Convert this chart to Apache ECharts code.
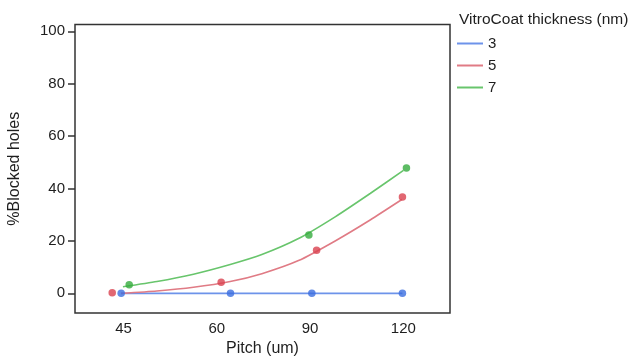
<!DOCTYPE html>
<html>
<head>
<meta charset="utf-8">
<script src="https://cdn.jsdelivr.net/npm/echarts@6/dist/echarts.min.js"></script>
<style>
html,body{margin:0;padding:0;background:#fff;}
#c{width:633px;height:358px;}
</style>
</head>
<body>
<div id="c"></div>
<script>
// Tick labels (ordinal pitch positions 1..4)
const pitchLabels = ['45', '60', '90', '120'];
const pitchPos = [1, 2, 3, 4];
const yTicks = [0, 20, 40, 60, 80, 100];
const legendTitle = 'VitroCoat thickness (nm)';
const seriesNames = ['3', '5', '7'];

// Observed points (dodged x position on ordinal axis, % blocked holes)
const x3 = [0.975, 2.147, 3.019, 3.99];
const y3 = [0, 0, 0, 0];
const x5 = [0.879, 2.047, 3.07, 3.99];
const y5 = [0.2, 4.2, 16.4, 36.8];
const x7 = [1.061, 2.987, 4.033];
const y7 = [3.3, 22.3, 47.8];

// Fitted curves
const fitX3 = [0.975, 3.99];
const fitY3 = [0, 0];
const fitX5 = [0.972, 1.358, 1.750, 2.144, 2.483, 2.876, 3.269, 3.644, 3.984];
const fitY5 = [0, 0.9, 2.3, 4.5, 7.5, 12.5, 20.0, 28.0, 35.8];
const fitX7 = [0.994, 1.358, 1.750, 2.144, 2.483, 2.876, 3.269, 3.644, 4.001];
const fitY7 = [2.5, 4.5, 7.3, 11.0, 14.8, 20.9, 29.2, 38.1, 46.9];

const pointColors = ['#3b6ee0', '#d9414f', '#35ab3d'];
const lineColors = ['#6d93ea', '#e07b85', '#68c56c'];

const zip = (a, b) => a.map((v, i) => [v, b[i]]);
const pts = [zip(x3, y3), zip(x5, y5), zip(x7, y7)];
const fits = [zip(fitX3, fitY3), zip(fitX5, fitY5), zip(fitX7, fitY7)];

const series = [];
for (let i = 0; i < 3; i++) {
  series.push({
    name: seriesNames[i],
    type: 'line',
    data: fits[i],
    smooth: 0.2,
    showSymbol: false,
    symbol: 'none',
    lineStyle: { color: lineColors[i], width: 1.6 },
    itemStyle: { color: lineColors[i] },
    z: 2,
    animation: false
  });
  series.push({
    name: seriesNames[i],
    type: 'scatter',
    data: pts[i],
    symbolSize: 7.5,
    itemStyle: { color: pointColors[i] },
    z: 3,
    animation: false
  });
}

const FONT = 'Liberation Sans, Arial, sans-serif';
const chart = echarts.init(document.getElementById('c'), null, { renderer: 'canvas' });
chart.setOption({
  animation: false,
  textStyle: { fontFamily: FONT },
  title: {
    text: legendTitle,
    left: 454,
    top: 7,
    textStyle: { fontSize: 15.5, fontWeight: 'normal', color: '#1e1e1e', fontFamily: FONT }
  },
  legend: {
    orient: 'vertical',
    left: 452,
    top: 31,
    itemWidth: 26,
    itemHeight: 2,
    itemGap: 7,
    icon: 'rect',
    textStyle: { fontSize: 15, color: '#1e1e1e', fontFamily: FONT },
    data: seriesNames.map((n, i) => ({ name: n, icon: 'rect', itemStyle: { color: lineColors[i] } }))
  },
  grid: {
    left: 75, right: 183, top: 24.5, bottom: 45,
    outerBoundsMode: 'none',
    containLabel: false,
    show: true, borderColor: '#333', borderWidth: 1.5, backgroundColor: '#fff'
  },
  xAxis: {
    type: 'value',
    min: 0.48,
    max: 4.5,
    name: 'Pitch (um)',
    nameLocation: 'middle',
    nameGap: 28,
    nameTextStyle: { fontSize: 16, color: '#1e1e1e', fontFamily: FONT },
    axisLine: { show: false },
    axisTick: { show: false },
    splitLine: { show: false },
    axisLabel: {
      customValues: pitchPos,
      formatter: v => pitchLabels[Math.round(v) - 1],
      fontSize: 15, color: '#1e1e1e', margin: 8
    }
  },
  yAxis: {
    type: 'value',
    min: -7.5,
    max: 102.6,
    name: '%Blocked holes',
    nameLocation: 'middle',
    nameGap: 52,
    nameTextStyle: { fontSize: 16, color: '#1e1e1e', fontFamily: FONT },
    axisLine: { show: false },
    axisTick: { show: true, customValues: yTicks, length: 7, lineStyle: { color: '#333', width: 1.5 } },
    splitLine: { show: false },
    axisLabel: { customValues: yTicks, fontSize: 15, color: '#1e1e1e', margin: 10 }
  },
  series: series
});
</script>
</body>
</html>
